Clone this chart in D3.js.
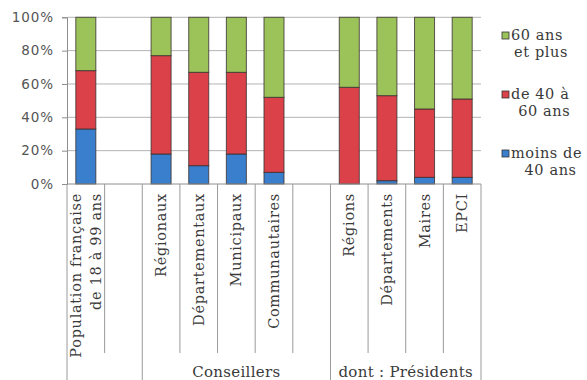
<!DOCTYPE html>
<html>
<head>
<meta charset="utf-8">
<script src="https://cdn.jsdelivr.net/npm/d3@7/dist/d3.min.js"></script>
<style>
  html, body { margin: 0; padding: 0; background: #fff; }
  svg { display: block; }
</style>
</head>
<body>
<svg id="chart" width="587" height="380"></svg>
<script>
// Age structure of French elected officials vs. the adult population (shares, %)
const categories = [
  "Population française|de 18 à 99 ans", "",
  "Régionaux", "Départementaux", "Municipaux", "Communautaires", "",
  "Régions", "Départements", "Maires", "EPCI"
];
const moins40 = [33, null, 18, 11, 18, 7, null, 0, 2, 4, 4];
const de40a60 = [35, null, 59, 56, 49, 45, null, 58, 51, 41, 47];
const plus60  = [32, null, 23, 33, 33, 48, null, 42, 47, 55, 49];

const seriesNames  = ["moins de|40 ans", "de 40 à|60 ans", "60 ans|et plus"];
const seriesColors = ["#3a7fcd", "#da4149", "#9cc25a"];

const groupLabels = ["", "Conseillers", "dont : Présidents"];
const groupStarts = [0, 2, 7];

const yTicks = [0, 0.2, 0.4, 0.6, 0.8, 1];

const svg = d3.select("#chart");
const W = 587, H = 380;
const margin = { left: 67, right: 106, top: 17.3, bottom: 196 };
const plotBottom = H - margin.bottom; // 184
const serif = "'DejaVu Serif', 'Liberation Serif', serif";
const sans = "'DejaVu Sans', Verdana, sans-serif";
const textColor = "#3a3a3a";

const keys = categories.map((c, i) => "c" + i);
const x = d3.scaleBand()
  .domain(keys)
  .range([margin.left, W - margin.right])
  .paddingInner(0.468)
  .paddingOuter(0.234);

const y = d3.scaleLinear().domain([0, 1]).range([plotBottom, margin.top]);

// gridlines
svg.append("g")
  .selectAll("line")
  .data(yTicks.slice(1))
  .join("line")
  .attr("x1", margin.left).attr("x2", W - margin.right)
  .attr("y1", d => y(d)).attr("y2", d => y(d))
  .attr("stroke", "#b4b4b4").attr("stroke-width", 1);

// stacked bars
const rows = keys.map((k, i) => ({
  key: k, s0: moins40[i], s1: de40a60[i], s2: plus60[i]
})).filter(d => d.s0 !== null);

const stack = d3.stack().keys(["s0", "s1", "s2"]).value((d, k) => d[k] / 100);
const layers = stack(rows);

svg.append("g")
  .selectAll("g")
  .data(layers)
  .join("g")
  .attr("fill", (d, i) => seriesColors[i])
  .selectAll("rect")
  .data(d => d)
  .join("rect")
  .attr("x", d => x(d.data.key))
  .attr("width", x.bandwidth())
  .attr("y", d => y(d[1]))
  .attr("height", d => y(d[0]) - y(d[1]))
  .attr("stroke", "#3a3030")
  .attr("stroke-width", 1)
  .attr("stroke-opacity", 0.8);

// y axis
const yAxis = d3.axisLeft(y).tickValues(yTicks).tickFormat(d3.format(".0%")).tickSize(5).tickPadding(8);
const ya = svg.append("g").attr("transform", `translate(${margin.left},0)`).call(yAxis);
ya.select(".domain").attr("stroke", "#8e8e8e");
ya.selectAll(".tick line").attr("stroke", "#8e8e8e");
ya.selectAll(".tick text")
  .attr("fill", "#555")
  .style("font-family", sans)
  .style("font-size", "13.5px")
  .style("letter-spacing", "0.9px");

// x axis baseline
svg.append("line")
  .attr("x1", margin.left).attr("x2", W - margin.right)
  .attr("y1", plotBottom).attr("y2", plotBottom)
  .attr("stroke", "#8e8e8e");

// category separators: short between slots, full height at group boundaries
const step = x.step();
const x0 = x.range()[0];
const boundaries = d3.range(categories.length + 1);
svg.append("g")
  .selectAll("line")
  .data(boundaries)
  .join("line")
  .attr("x1", i => x0 + i * step).attr("x2", i => x0 + i * step)
  .attr("y1", plotBottom)
  .attr("y2", i => (groupStarts.includes(i) || i === categories.length) ? H : 353)
  .attr("stroke", "#9a9a9a").attr("stroke-width", 1);

// rotated category labels
const lab = svg.append("g")
  .selectAll("text")
  .data(categories.map((c, i) => ({ key: keys[i], lines: c ? c.split("|") : [] })))
  .join("text")
  .attr("transform", d => `translate(${x(d.key) + x.bandwidth() / 2},193) rotate(-90)`)
  .attr("text-anchor", "end")
  .attr("fill", textColor)
  .style("font-family", serif)
  .style("font-size", "14.5px")
  .style("letter-spacing", "0.7px");
lab.selectAll("tspan")
  .data(d => d.lines.map((t, j) => ({ t, j, n: d.lines.length })))
  .join("tspan")
  .attr("x", 0)
  .attr("dy", (d) => d.j === 0 ? (0.35 - (d.n - 1) * 0.68) + "em" : "1.36em")
  .text(d => d.t);

// group labels
svg.append("g")
  .selectAll("text")
  .data(groupLabels.map((g, i) => ({
    g, a: groupStarts[i], b: i + 1 < groupStarts.length ? groupStarts[i + 1] : categories.length
  })).filter(d => d.g))
  .join("text")
  .attr("x", d => x0 + (d.a + d.b) / 2 * step)
  .attr("y", 377)
  .attr("text-anchor", "middle")
  .attr("fill", textColor)
  .style("font-family", serif)
  .style("font-size", "15px")
  .style("letter-spacing", "0.3px")
  .text(d => d.g);

// legend (top = oldest group)
const legendOrder = [2, 1, 0];
const leg = svg.append("g").attr("transform", "translate(502,0)");
const entries = leg.selectAll("g")
  .data(legendOrder)
  .join("g")
  .attr("transform", (s, k) => `translate(0,${32 + k * 59})`);
entries.append("rect")
  .attr("width", 7).attr("height", 7)
  .attr("fill", s => seriesColors[s])
  .attr("stroke", "#333").attr("stroke-width", 0.8);
entries.each(function (s) {
  const g = d3.select(this);
  const lines = seriesNames[s].split("|");
  const t1 = g.append("text")
    .attr("x", 9).attr("y", 8)
    .attr("fill", textColor)
    .style("font-family", serif).style("font-size", "14.5px")
    .style("letter-spacing", "0.6px")
    .text(lines[0]);
  const w1 = t1.node().getComputedTextLength();
  g.append("text")
    .attr("x", 9 + w1 / 2 + 4).attr("y", 25)
    .attr("text-anchor", "middle")
    .attr("fill", textColor)
    .style("font-family", serif).style("font-size", "14.5px")
    .style("letter-spacing", "0.6px")
    .text(lines[1]);
});
</script>
</body>
</html>
